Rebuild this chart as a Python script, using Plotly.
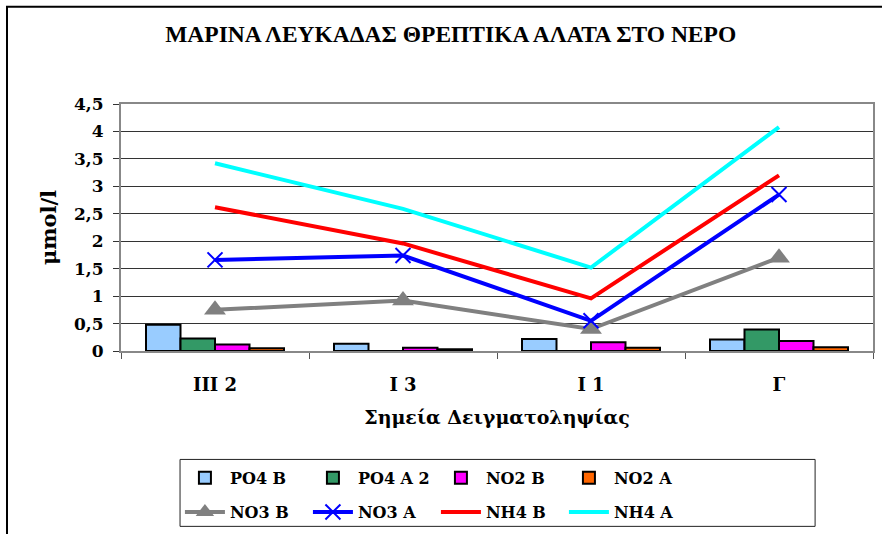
import plotly.graph_objects as go

# Sampling stations and nutrient concentrations (μmol/l)
stations = ["III 2", "I 3", "I 1", "Γ"]

po4_b = [0.48, 0.13, 0.22, 0.21]
po4_a2 = [0.23, 0.0, 0.0, 0.39]
no2_b = [0.12, 0.06, 0.16, 0.18]
no2_a = [0.05, 0.03, 0.06, 0.07]

no3_b = [0.75, 0.92, 0.40, 1.70]
no3_a = [1.66, 1.74, 0.55, 2.85]
nh4_b = [2.62, 1.96, 0.96, 3.20]
nh4_a = [3.42, 2.59, 1.52, 4.08]

y_ticks = [0, 0.5, 1, 1.5, 2, 2.5, 3, 3.5, 4, 4.5]

serif = "Georgia, 'DejaVu Serif', serif"

fig = go.Figure()

# bars go in the first legend row
bar_series = [
    ("PO4 B", po4_b, "#99CCFF"),
    ("PO4 A 2", po4_a2, "#339966"),
    ("NO2 B", no2_b, "#FF00FF"),
    ("NO2 A", no2_a, "#FF6600"),
]
for name, vals, color in bar_series:
    fig.add_trace(go.Bar(
        x=stations, y=vals, name=name, legend="legend",
        marker=dict(color=color, line=dict(color="black", width=2)),
    ))

# lines go in the second legend row
line_series = [
    ("NO3 B", no3_b, "#808080", dict(symbol="triangle-up", size=19, color="#808080")),
    ("NO3 A", no3_a, "#0000FF", dict(symbol="x-thin-open", size=15,
                                      line=dict(color="#0000FF", width=2))),
    ("NH4 B", nh4_b, "#FF0000", None),
    ("NH4 A", nh4_a, "#00FFFF", None),
]
for name, vals, color, marker in line_series:
    fig.add_trace(go.Scatter(
        x=stations, y=vals, name=name, legend="legend2",
        mode="lines+markers" if marker else "lines",
        line=dict(color=color, width=4),
        marker=marker,
    ))

legend_style = dict(
    orientation="h", traceorder="normal",
    xref="container", yref="container",
    x=0.204, xanchor="left", yanchor="top",
    entrywidth=73, itemwidth=40,
    borderwidth=0, bgcolor="rgba(0,0,0,0)",
    font=dict(family=serif, size=16, weight="bold"),
)

fig.update_layout(
    width=882, height=534,
    margin=dict(l=121, r=9, t=104, b=183, autoexpand=False),
    paper_bgcolor="white", plot_bgcolor="white",
    barmode="group", bargap=0.266, bargroupgap=0,
    font=dict(family=serif, size=14, color="black"),
    title=dict(
        text="<b>ΜΑΡΙΝΑ ΛΕΥΚΑΔΑΣ ΘΡΕΠΤΙΚΑ ΑΛΑΤΑ ΣΤΟ ΝΕΡΟ</b>",
        font=dict(family="'Liberation Serif', 'Times New Roman', serif", size=23.5),
        x=0.511, xanchor="center", y=0.937, yanchor="middle",
    ),
    xaxis=dict(
        type="category",
        tickvals=stations, ticktext=[f"<b>{s}</b>" for s in stations],
        tickson="boundaries", ticks="outside", ticklen=6, tickcolor="#555",
        ticklabelstandoff=16,
        showline=True, linecolor="#888", linewidth=2, mirror=True,
        showgrid=False,
        tickfont=dict(family=serif, size=18),
        title=dict(text="<b>Σημεία Δειγματοληψίας</b>",
                   font=dict(family=serif, size=19), standoff=17),
    ),
    yaxis=dict(
        range=[0, 4.5],
        tickvals=y_ticks,
        ticktext=[f"<b>{('%g' % v).replace('.', ',')}</b>" for v in y_ticks],
        ticks="outside", ticklen=6, tickcolor="#333",
        ticklabelstandoff=6,
        showline=True, linecolor="#888", linewidth=2, mirror=True,
        showgrid=True, gridcolor="#333", gridwidth=1,
        zeroline=False,
        tickfont=dict(family=serif, size=17),
        title=dict(text="<b>μmol/l</b>", font=dict(family=serif, size=21), standoff=12),
    ),
    legend=dict(legend_style, y=0.137),
    legend2=dict(legend_style, y=0.073),
    showlegend=True,
)

# outer chart frame
fig.add_shape(type="rect", xref="paper", yref="paper",
              x0=-0.1516, y0=-0.8, x1=1.05, y1=1.394,
              line=dict(color="black", width=2), layer="below")

# frame around the two legend rows
fig.add_shape(type="rect", xref="paper", yref="paper",
              x0=0.0785, y0=-0.710, x1=0.923, y1=-0.439,
              line=dict(color="#222", width=1), fillcolor="white", layer="below")

fig.write_html("out.html")
